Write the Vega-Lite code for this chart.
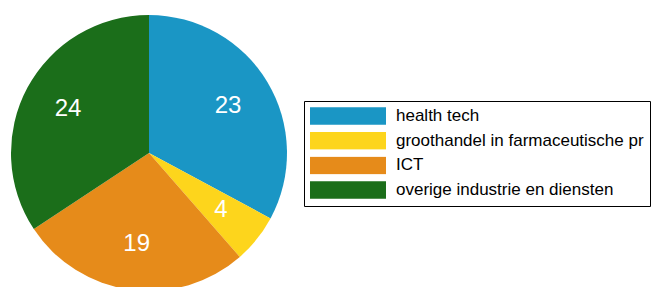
{
  "$schema": "https://vega.github.io/schema/vega-lite/v6.json",
  "width": 298,
  "height": 306,
  "padding": 0,
  "autosize": {"type": "pad"},
  "background": "white",
  "config": {"view": {"stroke": null}},
  "data": {
    "values": [
      {"sector": "health tech", "count": 23, "order": 1},
      {"sector": "groothandel in farmaceutische pr", "count": 4, "order": 2},
      {"sector": "ICT", "count": 19, "order": 3},
      {"sector": "overige industrie en diensten", "count": 24, "order": 4}
    ]
  },
  "encoding": {
    "theta": {"field": "count", "type": "quantitative", "stack": true},
    "order": {"field": "order", "type": "quantitative"}
  },
  "layer": [
    {
      "mark": {"type": "arc", "radius": 138, "stroke": null},
      "encoding": {
        "color": {
          "field": "sector",
          "type": "nominal",
          "scale": {
            "domain": ["health tech", "groothandel in farmaceutische pr", "ICT", "overige industrie en diensten"],
            "range": ["#1a96c5", "#fdd51c", "#e68b1a", "#1b6e1a"]
          },
          "legend": {
            "orient": "none",
            "legendX": 304,
            "legendY": 101,
            "title": null,
            "symbolType": "M-1,-0.23H1V0.23H-1Z",
            "symbolSize": 5776,
            "symbolStrokeWidth": 0,
            "symbolOpacity": 1,
            "clipHeight": 18,
            "rowPadding": 6.7,
            "labelFont": "Liberation Sans",
            "labelFontSize": 17,
            "labelColor": "black",
            "labelOffset": 10,
            "labelLimit": 400,
            "strokeColor": "black",
            "fillColor": "white",
            "padding": 6,
            "cornerRadius": 0
          }
        }
      }
    },
    {
      "mark": {"type": "text", "radius": 92, "font": "Liberation Sans", "fontSize": 24, "color": "white", "baseline": "middle", "align": "center"},
      "encoding": {
        "text": {"field": "count", "type": "quantitative"}
      }
    }
  ]
}
